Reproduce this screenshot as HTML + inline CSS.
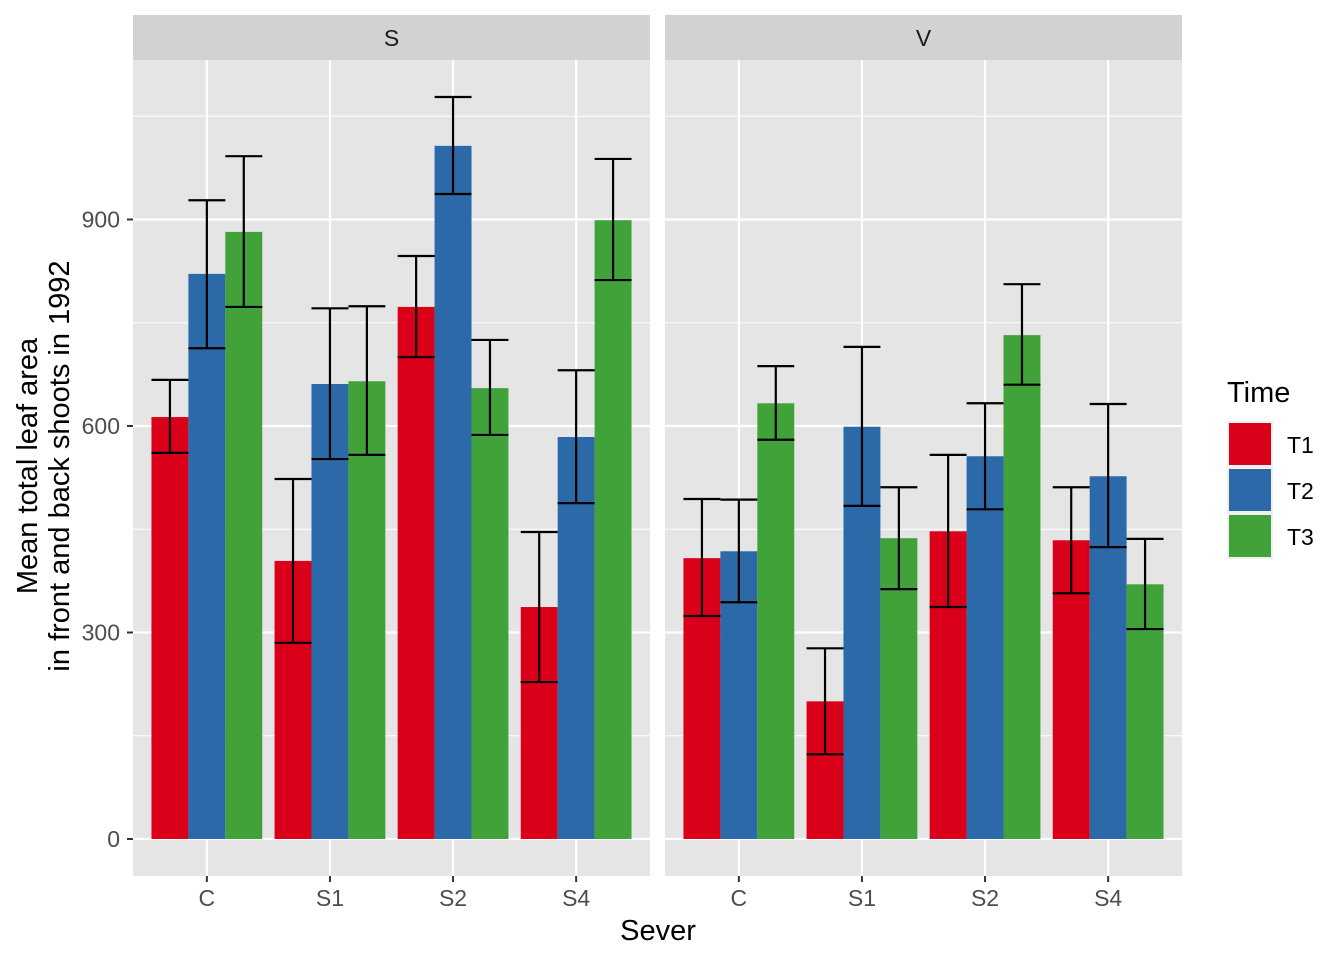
<!DOCTYPE html>
<html><head><meta charset="utf-8"><style>
body{margin:0;background:#fff;}
svg{display:block;font-family:"Liberation Sans",Arial,sans-serif;}
</style></head><body>
<svg id="chart" width="1344" height="960"></svg>
<script>
const categories = ["C","S1","S2","S4"];
const panels = ["S","V"];
const times = ["T1","T2","T3"];
const colors = ["#DA0019","#2C69A8","#41A23A"];
const meansS = [[613,821,882],[404,661,665],[773,1007,655],[337,584,899]];
const meansV = [[408,418,633],[200,599,437],[447,556,732],[434,527,370]];
const lowS = [[561,713,773],[285,552,558],[700,937,587],[228,488,812]];
const highS = [[667,928,992],[523,771,774],[847,1078,725],[446,681,988]];
const lowV = [[324,344,580],[123,484,363],[337,479,660],[357,424,305]];
const highV = [[494,493,687],[277,715,511],[558,633,806],[511,632,436]];
const yTicks = [0,300,600,900];
const yMinor = [150,450,750,1050];

const NS="http://www.w3.org/2000/svg";
const svg=document.getElementById('chart');
function mk(tag,attrs,parent){const e=document.createElementNS(NS,tag);for(const k in attrs)e.setAttribute(k,attrs[k]);(parent||svg).appendChild(e);return e;}
const plotTop=60, plotBot=876;
function y(v){return 839-v*0.68833;}
const panelX=[[133,650],[665,1182]];
const means=[meansS,meansV], lows=[lowS,lowV], highs=[highS,highV];

panels.forEach((p,pi)=>{
  const [x0,x1]=panelX[pi];
  const w=x1-x0;
  const step=w/4.2;
  function x(ci){return x0+step*(ci+0.6);}
  const bg=mk('rect',{x:x0,y:plotTop,width:w,height:plotBot-plotTop,fill:'#E5E5E5'});
  
  
  const strip=mk('rect',{x:x0,y:15,width:w,height:45,fill:'#D2D2D2'});
  
  
  const st=mk('text',{x:(x0+x1)/2,y:46,'text-anchor':'middle','font-size':'23',fill:'#1A1A1A'});
  st.textContent=p;
  
  
  yMinor.forEach(v=>{const l=mk('line',{x1:x0,x2:x1,y1:y(v),y2:y(v),stroke:'#fff','stroke-width':1.1});
    
    });
  yTicks.forEach(v=>{const l=mk('line',{x1:x0,x2:x1,y1:y(v),y2:y(v),stroke:'#fff','stroke-width':2.2});
    
    });
  categories.forEach((c,ci)=>{
    const cx=x(ci);
    const l=mk('line',{x1:cx,x2:cx,y1:plotTop,y2:plotBot,stroke:'#fff','stroke-width':2.2});
    
    
    const tk=mk('line',{x1:cx,x2:cx,y1:plotBot,y2:plotBot+6,stroke:'#333','stroke-width':2});
    
    
    const tl=mk('text',{x:cx,y:906,'text-anchor':'middle','font-size':'23',fill:'#4D4D4D'});
    tl.textContent=c;
    
    
  });
  const bw=step*0.9/3;
  categories.forEach((c,ci)=>{
    times.forEach((t,ti)=>{
      const bx=x(ci)-step*0.45+bw*ti;
      const v=means[pi][ci][ti];
      const r=mk('rect',{x:bx,y:y(v),width:bw,height:y(0)-y(v),fill:colors[ti]});
      
      
    });
  });
  categories.forEach((c,ci)=>{
    times.forEach((t,ti)=>{
      const bx=x(ci)-step*0.45+bw*ti, mx=bx+bw/2;
      const lo=y(lows[pi][ci][ti]), hi=y(highs[pi][ci][ti]);
      const g=mk('g',{stroke:'#000','stroke-width':2.2,fill:'none'});
      
      
      mk('line',{x1:mx,x2:mx,y1:lo,y2:hi},g);
      mk('line',{x1:bx,x2:bx+bw,y1:lo,y2:lo},g);
      mk('line',{x1:bx,x2:bx+bw,y1:hi,y2:hi},g);
    });
  });
});
yTicks.forEach(v=>{
  const tk=mk('line',{x1:127,x2:133,y1:y(v),y2:y(v),stroke:'#333','stroke-width':2});
  
  
  const tl=mk('text',{x:120,y:y(v)+8,'text-anchor':'end','font-size':'23',fill:'#4D4D4D'});
  tl.textContent=v;
  
  
});
const xt=mk('text',{x:658,y:940,'text-anchor':'middle','font-size':'29',fill:'#000'});
xt.textContent='Sever';


const yt=mk('text',{transform:'translate(37,466) rotate(-90)','text-anchor':'middle','font-size':'29',fill:'#000'});


const t1=mk('tspan',{x:0,y:0},yt);t1.textContent='Mean total leaf area';
const t2=mk('tspan',{x:0,y:32},yt);t2.textContent='in front and back shoots in 1992';
const lt=mk('text',{x:1227,y:402,'font-size':'29',fill:'#000'});
lt.textContent='Time';


times.forEach((t,ti)=>{
  const ky=421+ti*46;
  const bgk=mk('rect',{x:1227,y:ky,width:46,height:46,fill:'#F0F0F0'});
  
  
  const k=mk('rect',{x:1229,y:ky+2,width:42,height:42,fill:colors[ti]});
  
  
  const l=mk('text',{x:1287,y:ky+32,'font-size':'23',fill:'#000'});
  l.textContent=t;
  
  
});
</script>
</body></html>
